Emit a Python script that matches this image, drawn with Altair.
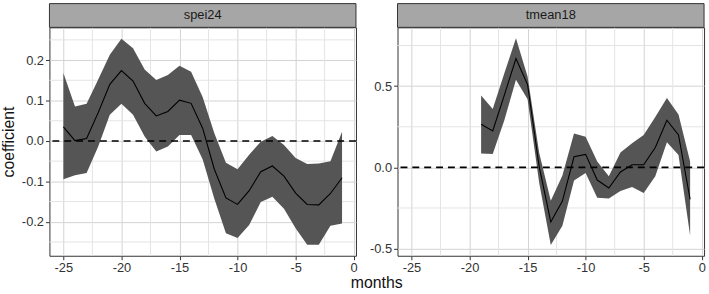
import altair as alt
import pandas as pd

FONT = "Liberation Sans"

# ---- data ----
spei_months = [-25, -24, -23, -22, -21, -20, -19, -18, -17, -16, -15, -14, -13,
               -12, -11, -10, -9, -8, -7, -6, -5, -4, -3, -2, -1]
spei_mean = [0.035, 0.001, 0.006, 0.070, 0.140, 0.174, 0.148, 0.093, 0.062, 0.073,
             0.101, 0.093, 0.031, -0.070, -0.141, -0.157, -0.123, -0.076, -0.062,
             -0.087, -0.129, -0.157, -0.158, -0.130, -0.091]
spei_upper = [0.168, 0.085, 0.092, 0.152, 0.213, 0.253, 0.229, 0.177, 0.151, 0.163,
              0.186, 0.171, 0.108, 0.019, -0.054, -0.070, -0.034, -0.002, 0.012,
              -0.010, -0.042, -0.057, -0.056, -0.050, 0.023]
spei_lower = [-0.095, -0.085, -0.079, -0.014, 0.065, 0.092, 0.065, 0.011, -0.026,
              -0.014, 0.015, 0.015, -0.046, -0.143, -0.228, -0.240, -0.208, -0.151,
              -0.138, -0.168, -0.216, -0.257, -0.257, -0.210, -0.204]

tmean_months = [-19, -18, -17, -16, -15, -14, -13, -12, -11, -10, -9, -8, -7, -6,
                -5, -4, -3, -2, -1]
tmean_mean = [0.266, 0.224, 0.445, 0.670, 0.510, 0.005, -0.336, -0.207, 0.065, 0.080,
              -0.078, -0.127, -0.028, 0.016, 0.016, 0.122, 0.290, 0.200, -0.197]
tmean_upper = [0.443, 0.360, 0.580, 0.795, 0.560, 0.090, -0.205, -0.050, 0.209, 0.189,
               0.037, -0.055, 0.091, 0.148, 0.200, 0.310, 0.427, 0.325, 0.037]
tmean_lower = [0.085, 0.082, 0.290, 0.540, 0.420, -0.095, -0.477, -0.360, -0.080,
               -0.035, -0.187, -0.191, -0.146, -0.120, -0.157, -0.055, 0.154, 0.077,
               -0.420]

x_major = [-25, -20, -15, -10, -5, 0]
x_minor = [-22.5, -17.5, -12.5, -7.5, -2.5]
spei_y_major = [-0.2, -0.1, 0.0, 0.1, 0.2]
spei_y_minor = [-0.25, -0.15, -0.05, 0.05, 0.15, 0.25]
tmean_y_major = [-0.5, 0.0, 0.5]
tmean_y_minor = [-0.25, 0.25, 0.75]

W, H = 310, 231
XDOM = [-26.2, 0.2]


def panel(label, months, mean, upper, lower, ydom, ymaj, ymin, ytitle):
    df = pd.DataFrame({"month": months, "mean": mean, "upper": upper, "lower": lower})
    xs = alt.Scale(domain=XDOM, nice=False, zero=False)
    ys = alt.Scale(domain=ydom, nice=False, zero=False)
    xaxis = alt.Axis(values=x_major, labelExpr="'' + datum.value", title=None)
    yaxis = alt.Axis(values=ymaj,
                     labelExpr="replace(format(datum.value, '.1f'), '\u2212', '-')",
                     title=ytitle)

    vgrid = alt.Chart(pd.DataFrame({"v": x_minor})).mark_rule(
        color="#e4e4e4", strokeWidth=1).encode(
        x=alt.X("v:Q", scale=xs, axis=xaxis))
    hgrid = alt.Chart(pd.DataFrame({"v": ymin})).mark_rule(
        color="#e4e4e4", strokeWidth=1).encode(
        y=alt.Y("v:Q", scale=ys, axis=yaxis))
    band = alt.Chart(df).mark_area(color="#555555", opacity=1).encode(
        x=alt.X("month:Q", scale=xs, axis=xaxis),
        y=alt.Y("lower:Q", scale=ys, axis=yaxis),
        y2="upper:Q")
    zero = alt.Chart(pd.DataFrame({"z": [0.0]})).mark_rule(
        color="black", strokeDash=[7, 5], strokeWidth=1.6).encode(
        y=alt.Y("z:Q", scale=ys, axis=yaxis))
    line = alt.Chart(df).mark_line(color="black", strokeWidth=1.1).encode(
        x=alt.X("month:Q", scale=xs, axis=xaxis),
        y=alt.Y("mean:Q", scale=ys, axis=yaxis))
    lab = pd.DataFrame({"label": [label]})
    strip = alt.Chart(lab).mark_rect(
        fill="#a6a6a6", stroke="#333333", strokeWidth=1, strokeJoin="miter",
        cornerRadius=0).encode(
        x=alt.value(0), x2=alt.value(W), y=alt.value(-24), y2=alt.value(0))
    strip_text = alt.Chart(lab).mark_text(
        font=FONT, fontSize=13, color="#1a1a1a", baseline="middle", align="center").encode(
        x=alt.value(W / 2), y=alt.value(-12), text="label:N")
    return alt.layer(vgrid, hgrid, band, zero, line, strip, strip_text).properties(
        width=W, height=H)


left = panel("spei24", spei_months, spei_mean, spei_upper, spei_lower,
             [-0.284, 0.281], spei_y_major, spei_y_minor, "coefficient")
right = panel("tmean18", tmean_months, tmean_mean, tmean_upper, tmean_lower,
              [-0.544, 0.862], tmean_y_major, tmean_y_minor, None)

chart = alt.hconcat(left, right, spacing=11).properties(
    title=alt.TitleParams("months", orient="bottom", anchor="middle", fontSize=16,
                          font=FONT, fontWeight="normal", color="#111111", dx=24,
                          offset=0),
    padding={"left": 0, "top": 1, "right": 3, "bottom": 0},
    background="white",
).configure_view(
    stroke="#333333", strokeWidth=1
).configure_axis(
    labelFont=FONT, labelFontSize=13, labelColor="#333333",
    titleFont=FONT, titleFontSize=16, titleFontWeight="normal", titleColor="#111111",
    domain=False, tickColor="#333333", tickSize=4, tickWidth=1,
    gridColor="#d2d2d2", gridWidth=1, labelPadding=2, titlePadding=5,
)

chart.save("out.html", embed_options={"renderer": "svg", "actions": False})
